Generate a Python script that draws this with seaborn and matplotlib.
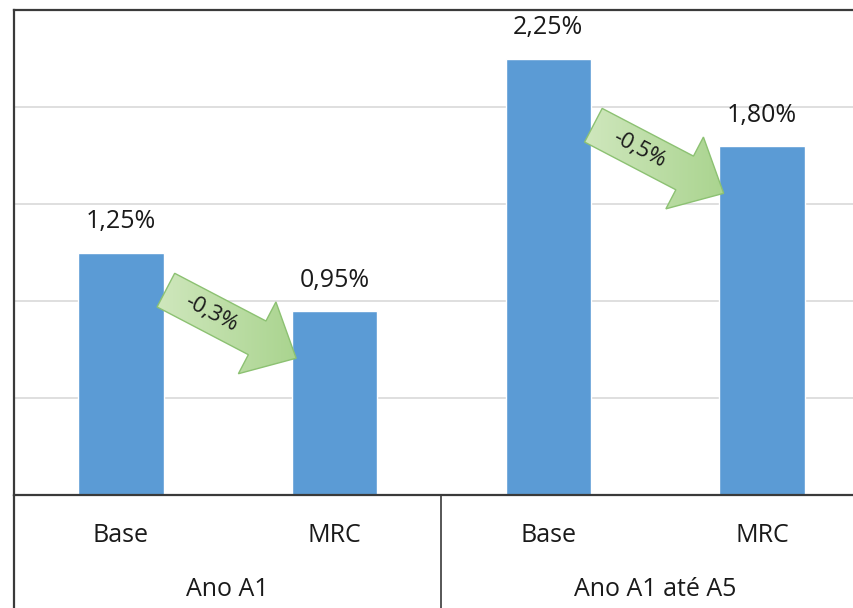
import numpy as np
import pandas as pd
import matplotlib
matplotlib.use("Agg")
import matplotlib.pyplot as plt
from matplotlib.patches import Polygon
from matplotlib.transforms import IdentityTransform, blended_transform_factory
import seaborn as sns

# Data
groups = ["Ano A1", "Ano A1 até A5"]
scenarios = ["Base", "MRC"]
values = [1.25, 0.95, 2.25, 1.80]  # percent

sns.set_theme(style="white")
plt.rcParams["font.family"] = ["Open Sans", "DejaVu Sans"]

TEXT = "#1a1a1a"
BAR = "#5B9BD5"
GRID = "#D9D9D9"
FRAME = "#3a3a3a"
FS = 18

keys = [f"{g} | {s}" for g in groups for s in scenarios]
df = pd.DataFrame({"key": keys, "value": values})

W, H = 854, 608
fig = plt.figure(figsize=(W / 100, H / 100), dpi=100)
ax = fig.add_axes([14 / W, 113 / H, 855 / W, 485 / H])

sns.barplot(data=df, x="key", y="value", order=keys, color=BAR,
            saturation=1, width=0.4, ax=ax, zorder=3)

ax.set_xlim(-0.5, 3.5)
ax.set_ylim(0, 2.5)
ax.set_yticks(np.arange(0.5, 2.51, 0.5))
ax.yaxis.grid(True, color=GRID, linewidth=1.2, zorder=0)
ax.set_axisbelow(True)
ax.tick_params(left=False, bottom=False, labelleft=False, labelbottom=False)
ax.set_xlabel("")
ax.set_ylabel("")
for side in ["top", "left", "bottom"]:
    ax.spines[side].set_color(FRAME)
    ax.spines[side].set_linewidth(1.6)
ax.spines["right"].set_visible(False)
ax.spines["bottom"].set_zorder(5)

# Value labels
for i, v in enumerate(values):
    ax.annotate(f"{v:.2f}%".replace(".", ","), (i, v), xytext=(0, 13),
                textcoords="offset points", ha="center", va="bottom",
                fontsize=FS, color=TEXT)

# Two-level category axis
xtrans = blended_transform_factory(ax.transData, ax.transAxes)
ypx = lambda py: (495 - py) / 485  # axes fraction from pixel row
for i, k in enumerate(keys):
    ax.text(i, ypx(536), k.split(" | ")[1], transform=xtrans, ha="center",
            va="center", fontsize=FS, color=TEXT, clip_on=False)
for gi, g in enumerate(groups):
    ax.text(2 * gi + 0.5, ypx(590), g, transform=xtrans, ha="center",
            va="center", fontsize=FS, color=TEXT, clip_on=False)
for xb in [-0.5, 1.5, 3.5]:
    ax.plot([xb, xb], [0, ypx(620)], transform=xtrans, color=FRAME,
            linewidth=1.6 if xb == -0.5 else 1.2, clip_on=False, zorder=5)


# Green block arrows between Base and MRC, anchored at the tip
def block_arrow(tip_px, length=147, angle_deg=-27.6, shaft=38,
                head_w=81, head_l=44):
    a = np.deg2rad(angle_deg)
    u = np.array([np.cos(a), np.sin(a)])
    n = np.array([-u[1], u[0]])
    p = np.asarray(tip_px)
    t = p - u * length
    b = t + u * (length - head_l)
    pts = [t + n * shaft / 2, b + n * shaft / 2, b + n * head_w / 2, p,
           b - n * head_w / 2, b - n * shaft / 2, t - n * shaft / 2]
    return np.array(pts), u, (t + p) / 2


cmap = matplotlib.colors.LinearSegmentedColormap.from_list(
    "g", ["#cfe7bd", "#aad48f"])
inv = ax.transData.inverted()
for gi in range(len(groups)):
    v0, v1 = values[2 * gi], values[2 * gi + 1]
    tip = ax.transData.transform((2 * gi + 1 - 0.18, v1 - 0.245))
    pts, u, c = block_arrow(tip)
    poly = Polygon(pts, closed=True, transform=IdentityTransform(),
                   facecolor="none", edgecolor="#8cc172", linewidth=1.0,
                   zorder=6)
    ax.add_patch(poly)
    # gradient fill clipped to the arrow shape
    (x0, y0) = inv.transform(pts.min(axis=0))
    (x1, y1) = inv.transform(pts.max(axis=0))
    grad = np.linspace(0, 1, 64)[None, :]
    im = ax.imshow(grad, extent=(x0, x1, y0, y1), cmap=cmap, aspect="auto",
                   zorder=5.5, interpolation="bilinear")
    im.set_clip_path(poly)
    diff = round(v1 - v0 + 1e-9 * np.sign(v1 - v0), 1)
    txt = f"{diff:.1f}%".replace(".", ",")
    tdx, tdy = inv.transform(c - u * 22)
    ax.text(tdx, tdy, txt, rotation=-27.6, rotation_mode="anchor",
            ha="center", va="center", fontsize=16, color=TEXT, zorder=7)

ax.set_xlim(-0.5, 3.5)
ax.set_ylim(0, 2.5)
fig.savefig("out.png", dpi=100)
